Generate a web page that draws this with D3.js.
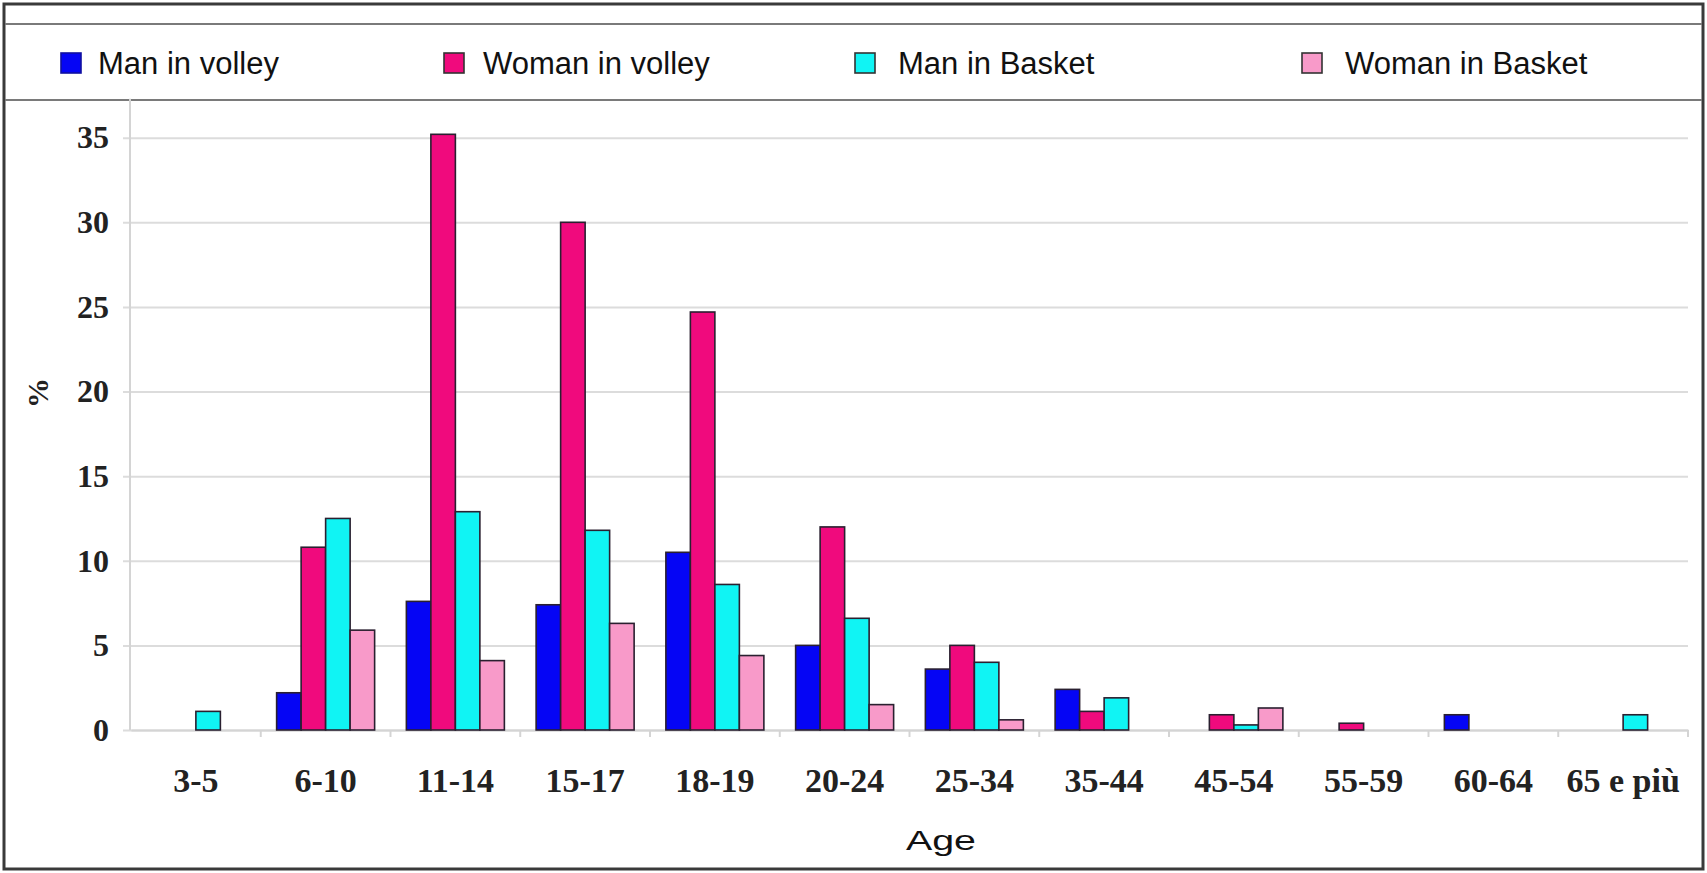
<!DOCTYPE html>
<html>
<head>
<meta charset="utf-8">
<script src="https://cdn.jsdelivr.net/npm/d3@7"></script>
<style>
  html, body { margin: 0; padding: 0; background: #fff; }
  svg { display: block; }
</style>
</head>
<body>
<svg id="chart" width="1707" height="873"></svg>
<script>
// ---- data ----
const categories = ["3-5", "6-10", "11-14", "15-17", "18-19", "20-24", "25-34", "35-44", "45-54", "55-59", "60-64", "65 e più"];
const seriesNames = ["Man in volley", "Woman in volley", "Man in Basket", "Woman in Basket"];
const manVolley    = [0, 2.2, 7.6, 7.4, 10.5, 5.0, 3.6, 2.4, 0, 0, 0.9, 0];
const womanVolley  = [0, 10.8, 35.2, 30.0, 24.7, 12.0, 5.0, 1.1, 0.9, 0.4, 0, 0];
const manBasket    = [1.1, 12.5, 12.9, 11.8, 8.6, 6.6, 4.0, 1.9, 0.3, 0, 0, 0.9];
const womanBasket  = [0, 5.9, 4.1, 6.3, 4.4, 1.5, 0.6, 0, 1.3, 0, 0, 0];
const yTicks = [0, 5, 10, 15, 20, 25, 30, 35];
const xTitle = "Age";
const yTitle = "%";

const seriesValues = [manVolley, womanVolley, manBasket, womanBasket];
const colors = ["#0505f5", "#f00a7d", "#10f4f4", "#f89ac9"];

// ---- layout ----
const svg = d3.select("#chart");
const plotLeft = 131, plotRight = 1688;
const yZero = 730, yTop = 137.7;

// outer frame
svg.append("rect").attr("x", 4).attr("y", 4).attr("width", 1699).attr("height", 865)
  .attr("fill", "#fff").attr("stroke", "#3a3a3a").attr("stroke-width", 3);
// legend box lines
svg.append("line").attr("x1", 5).attr("x2", 1702).attr("y1", 24).attr("y2", 24)
  .attr("stroke", "#7a7a7a").attr("stroke-width", 2);
svg.append("line").attr("x1", 5).attr("x2", 1702).attr("y1", 100).attr("y2", 100)
  .attr("stroke", "#7a7a7a").attr("stroke-width", 2);

// scales
const x = d3.scaleBand().domain(categories).range([plotLeft, plotRight]).padding(0);
const inner = d3.scaleBand().domain(seriesNames).range([0, x.bandwidth()])
  .paddingInner(0).paddingOuter(0.648);
const y = d3.scaleLinear().domain([0, 35]).range([yZero, yTop]);

// gridlines + y axis
const yAxis = d3.axisLeft(y).tickValues(yTicks).tickSize(-(plotRight - plotLeft + 8)).tickPadding(14)
  .tickFormat(d3.format("d"));
const gy = svg.append("g").attr("transform", `translate(${plotLeft - 8},0)`).call(yAxis);
gy.select(".domain").remove();
gy.selectAll(".tick line").attr("stroke", "#dcdcdc").attr("stroke-width", 2);
gy.selectAll(".tick text")
  .attr("font-family", "'Liberation Serif', 'Times New Roman', serif")
  .attr("font-weight", "bold").attr("font-size", 32).attr("fill", "#222");

// vertical axis line
svg.append("line").attr("x1", plotLeft - 1).attr("x2", plotLeft - 1)
  .attr("y1", y(37.3)).attr("y2", yZero)
  .attr("stroke", "#d4d4d4").attr("stroke-width", 2);

// x axis (boundary ticks + labels)
const gx = svg.append("g").attr("transform", `translate(0,${yZero})`)
  .call(d3.axisBottom(x).tickSize(0).tickPadding(38));
gx.select(".domain").attr("stroke", "#d4d4d4").attr("stroke-width", 2);
gx.selectAll(".tick text")
  .attr("font-family", "'Liberation Serif', 'Times New Roman', serif")
  .attr("font-weight", "bold").attr("font-size", 34).attr("fill", "#222");
gx.selectAll(".boundary").data(categories)
  .enter().append("line").attr("class", "boundary")
  .attr("x1", d => x(d) + x.step())
  .attr("x2", d => x(d) + x.step())
  .attr("y1", 0).attr("y2", 7)
  .attr("stroke", "#d4d4d4").attr("stroke-width", 2);

// bars
const groups = svg.append("g").selectAll("g").data(categories).enter().append("g")
  .attr("transform", d => `translate(${x(d)},0)`);
groups.selectAll("rect")
  .data((c, ci) => seriesNames.map((s, si) => ({ s, si, v: seriesValues[si][ci] })).filter(d => d.v > 0))
  .enter().append("rect")
  .attr("x", d => inner(d.s))
  .attr("width", inner.bandwidth())
  .attr("y", d => y(d.v))
  .attr("height", d => yZero - y(d.v))
  .attr("fill", d => colors[d.si])
  .attr("stroke", "#2a2030").attr("stroke-width", 1.6);

// legend
const legendSquareX = [61, 444, 855, 1302];
const legendTextX = [98, 483, 898, 1345];
const legend = svg.append("g");
seriesNames.forEach((name, i) => {
  legend.append("rect").attr("x", legendSquareX[i]).attr("y", 53).attr("width", 20).attr("height", 20)
    .attr("fill", colors[i]).attr("stroke", i === 0 ? "#1010a0" : "#333").attr("stroke-width", 1.6);
  legend.append("text").attr("x", legendTextX[i]).attr("y", 74)
    .attr("font-family", "'Liberation Sans', Arial, sans-serif").attr("font-size", 31)
    .attr("fill", "#111").text(name);
});

// axis titles
svg.append("text").attr("x", 941).attr("y", 850).attr("text-anchor", "middle")
  .attr("font-family", "'Liberation Sans', Arial, sans-serif").attr("font-size", 27)
  .attr("textLength", 70).attr("lengthAdjust", "spacingAndGlyphs")
  .attr("fill", "#111").text(xTitle);
svg.append("text").attr("transform", "translate(48,393) rotate(-90)").attr("text-anchor", "middle")
  .attr("font-family", "'Liberation Serif', 'Times New Roman', serif").attr("font-weight", "bold")
  .attr("font-size", 30).attr("fill", "#222").text(yTitle);
</script>
</body>
</html>
